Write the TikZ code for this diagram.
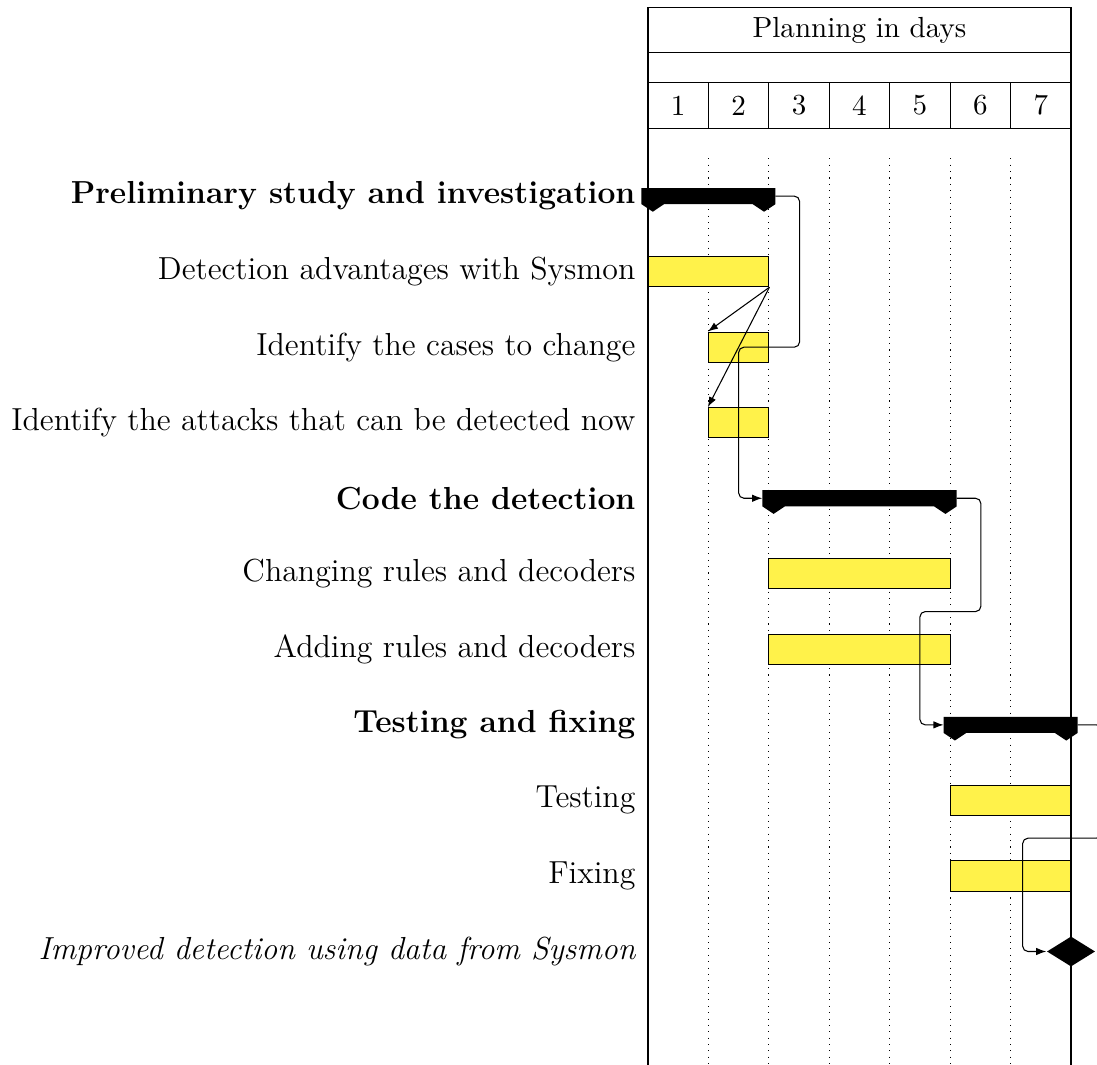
\documentclass[12pt,tikz,border=0pt]{standalone}
\usetikzlibrary{arrows.meta,shapes.geometric,fit,calc}
\definecolor{barfill}{RGB}{255,242,74}
\tikzset{
  barbox/.style={draw=black, fill=barfill, inner sep=0pt},
  grouphull/.style={inner sep=0pt},
  vgrid/.style={dotted},
  link/.style={-{Latex[length=3.8pt,width=2.8pt]}, rounded corners=2pt},
  tasklabel/.style={anchor=east, inner sep=0pt},
  headlabel/.style={font=\small},
  milestone/.style={diamond, fill=black, inner sep=0pt, minimum width=0.64cm, minimum height=0.4cm}
}
\newcommand\ganttbar[4]{
    \node[barbox, fit={(#3-1,-#2+0.2) (#4,-#2-0.2)}] (#1) {};
}
\newcommand\ganttgroup[4]{
    \node[grouphull, fit={(#3-1.1,-#2+0.1) (#4+0.1,-#2-0.1)}] (#1) {};
    \fill (#1.north west) -- (#1.north east) -- (#1.south east) -- ++(-0.1875,-0.1)
    -- ++(-0.1875,0.1) -- ($(#1.south west)+(0.375,0)$) -- ++(-0.1875,-0.1)
    -- (#1.south west) -- cycle;
}
\begin{document}
\begin{tikzpicture}[x=0.8cm,y=1cm]
        \useasboundingbox (-10.723,2.596) rectangle (7.43,-11.497);
        \draw (0,-11.6) -- (0,2.5) -- (7,2.5) -- (7,-11.6);
        \draw (0,1.9) -- (7,1.9);
        \draw (0,1.5) -- (7,1.5);
        \draw (0,0.9) -- (7,0.9);
        \foreach \d in {1,...,6} \draw (\d,1.5) -- (\d,0.9);
        \node[headlabel] (title) at (3.5,2.2) {Planning in days};
        \foreach \d in {1,...,7} \node[headlabel] (day\d) at (\d-0.5,1.2) {\d};
        \foreach \d in {1,...,6} \draw[vgrid] (\d,0.5) -- (\d,-11.6);
        \node[tasklabel, font=\bfseries] (l0) at (-0.2,0) {Preliminary study and investigation};
        \node[tasklabel] (l1) at (-0.2,-1) {Detection advantages with Sysmon};
        \node[tasklabel] (l2) at (-0.2,-2) {Identify the cases to change};
        \node[tasklabel] (l3) at (-0.2,-3) {Identify the attacks that can be detected now};
        \node[tasklabel, font=\bfseries] (l4) at (-0.2,-4) {Code the detection};
        \node[tasklabel] (l5) at (-0.2,-5) {Changing rules and decoders};
        \node[tasklabel] (l6) at (-0.2,-6) {Adding rules and decoders};
        \node[tasklabel, font=\bfseries] (l7) at (-0.2,-7) {Testing and fixing};
        \node[tasklabel] (l8) at (-0.2,-8) {Testing};
        \node[tasklabel] (l9) at (-0.2,-9) {Fixing};
        \node[tasklabel, font=\itshape] (l10) at (-0.2,-10) {Improved detection using data from Sysmon};
        \ganttgroup{g1}{0}{1}{2}
        \ganttbar{b1}{1}{1}{2}
        \ganttbar{b2}{2}{2}{2}
        \ganttbar{b3}{3}{2}{2}
        \ganttgroup{g2}{4}{3}{5}
        \ganttbar{b4}{5}{3}{5}
        \ganttbar{b5}{6}{3}{5}
        \ganttgroup{g3}{7}{6}{7}
        \ganttbar{b6}{8}{6}{7}
        \ganttbar{b7}{9}{6}{7}
        \node[milestone] (m1) at (7,-10) {};
        \draw[link] (g1.east) -- ++(0.4,0) |- (1.5,-2) |- (g2.west);
        \draw[link] (b1.south east) -- (b2.north west);
        \draw[link] (b1.south east) -- (b3.north west);
        \draw[link] (g2.east) -- ++(0.4,0) |- (4.5,-5.5) |- (g3.west);
        \draw[link] (g3.east) -- ++(0.4,0) |- (6.2,-8.5) |- (m1.west);
\end{tikzpicture}
\end{document}
